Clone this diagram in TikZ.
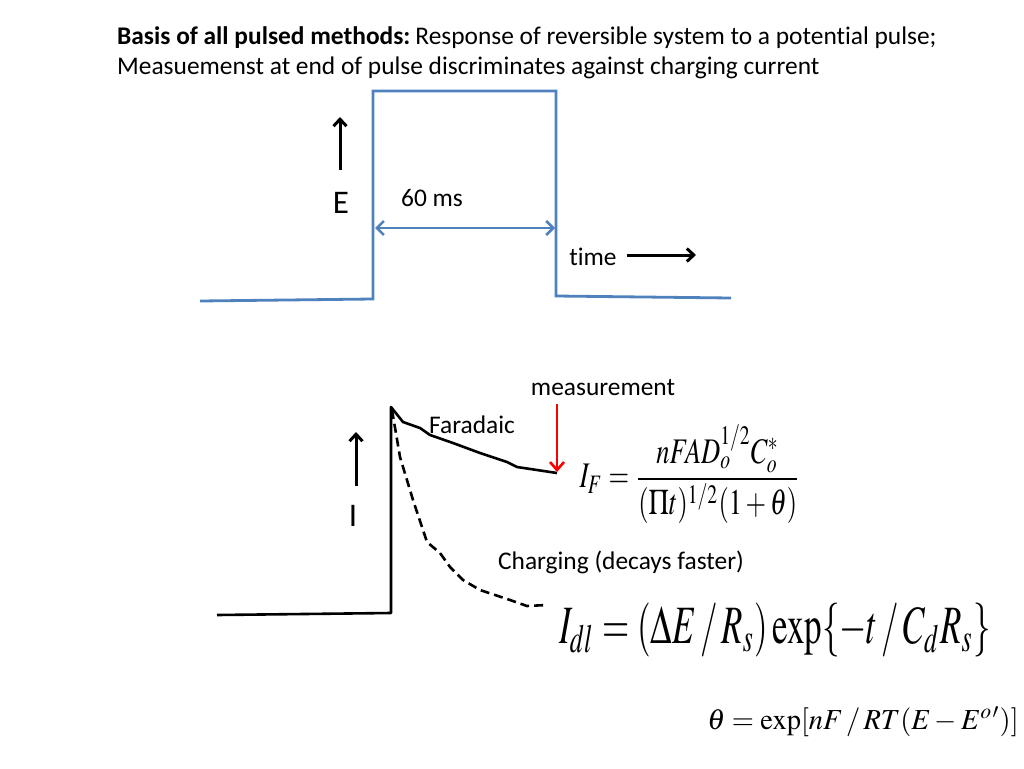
\documentclass[tikz,border=0pt]{standalone}
\usepackage{mathptmx}
\usepackage{fontspec}
\setmainfont{Carlito}[Ligatures={NoCommon}]
\usetikzlibrary{arrows.meta}
\definecolor{pulseblue}{RGB}{79,129,189}
\tikzset{
  pulse/.style={draw=pulseblue, line width=2.8pt, line join=miter},
  blk/.style={draw=black, line width=2.6pt},
  axarrow/.style={draw=black, line width=3pt, -{Straight Barb[length=7pt,width=13pt]}},
  lbl/.style={inner sep=0pt, font=\fontsize{25.4}{30}\selectfont},
  biglbl/.style={inner sep=0pt, font=\fontsize{33}{38}\selectfont},
  eq/.style={inner sep=0pt}
}
\begin{document}
\begin{tikzpicture}[x=1pt,y=-1pt]
\useasboundingbox (0,0) rectangle (1024,768);
% title
\node[lbl, anchor=west] (t1) at (117,38) {\textbf{Basis of all pulsed methods:}\hspace{0.2em}Response of reversible system to a potential pulse;};
\node[lbl, anchor=west] (t2) at (117,68) {Measuemenst at end of pulse discriminates against charging current};
% pulse
\coordinate (p0) at (200,301);
\coordinate (p1) at (373,299);
\coordinate (p2) at (373,91);
\coordinate (p3) at (556,91);
\coordinate (p4) at (556,296);
\coordinate (p5) at (731,298);
\draw[pulse] (p0) -- (p1) -- (p2) -- (p3) -- (p4) -- (p5);
\coordinate (w1) at (375,228);
\coordinate (w2) at (555,228);
\draw[draw=pulseblue, line width=2.6pt, {Straight Barb[length=7pt,width=14pt]}-{Straight Barb[length=7pt,width=14pt]}] (w1) -- (w2);
\node[lbl] (ms) at (432,198) {60 ms};
\node[biglbl] (E) at (341,203) {E};
\coordinate (ea) at (340,170);
\coordinate (eb) at (340,117);
\draw[axarrow] (ea) -- (eb);
\node[lbl] (time) at (593,257) {time};
\coordinate (ta) at (627,255);
\coordinate (tb) at (696,255);
\draw[axarrow] (ta) -- (tb);
% current response
\coordinate (c0) at (217,615);
\coordinate (c1) at (391,613);
\coordinate (c2) at (391,407);
\draw[blk, line join=round] (c0) -- (c1) -- (c2) -- (395,412) -- (403,422) -- (420,428) -- (430,435) -- (453,443) -- (480,453) -- (507,462) -- (517,467) -- (537,470) -- (557,473);
\draw[blk, dash pattern=on 9pt off 5pt, line join=round] (392,410) -- (400,457) -- (413,500) -- (427,542) -- (440,553) -- (450,567) -- (463,580) -- (480,590) -- (510,600) -- (527,606) -- (547,605);
\coordinate (ma) at (557,404);
\coordinate (mb) at (557,472);
\draw[draw=red, line width=2.6pt, -{Straight Barb[length=8pt,width=14pt]}] (ma) -- (mb);
\node[lbl] (meas) at (603,388) {measurement};
\node[lbl] (far) at (472,425) {Faradaic};
\node[biglbl] (I) at (353,516) {I};
\coordinate (ia) at (356,486);
\coordinate (ib) at (356,432);
\draw[axarrow] (ia) -- (ib);
\node[lbl] (chg) at (621,562) {Charging (decays faster)};
% equations
\node[eq, xscale=2.65, yscale=3.6] (eqF) at (690,474) {$\displaystyle I_F=\frac{nFAD_o^{1/2}C_o^*}{(\Pi t)^{1/2}(1+\theta)}$};
\node[eq, xscale=3.5, yscale=5.4] (eqdl) at (775,630) {$I_{dl}=(\Delta E\,/\,R_s)\exp\{-t\,/\,C_dR_s\}$};
\node[eq, xscale=2.85, yscale=2.9] (eqth) at (863,722) {$\theta=\exp[nF\,/\,RT(E-E^{o}{}')]$};
\end{tikzpicture}
\end{document}
